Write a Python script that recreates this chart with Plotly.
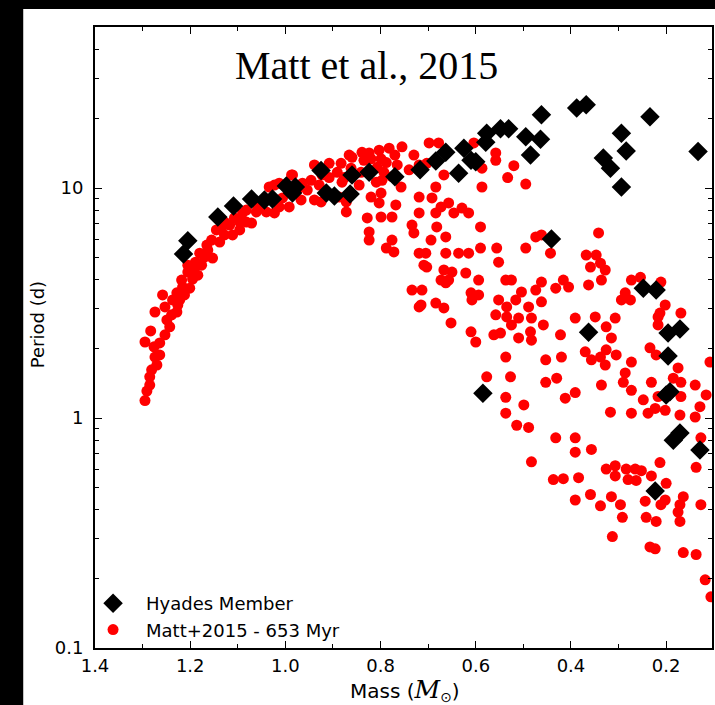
import plotly.graph_objects as go

# Hyades members (mass in solar masses, period in days)
hyades_mass = [1.205, 1.214, 1.142, 1.109, 1.071, 1.044, 1.027, 0.998, 0.985, 0.979,
               0.925, 0.914, 0.897, 0.864, 0.860, 0.824, 0.770, 0.717, 0.684, 0.663,
               0.636, 0.625, 0.610, 0.600, 0.579, 0.577, 0.548, 0.531, 0.495, 0.464,
               0.485, 0.462, 0.388, 0.368, 0.441, 0.294, 0.284, 0.234, 0.332, 0.317,
               0.294, 0.133, 0.248, 0.221, 0.363, 0.196, 0.171, 0.196, 0.192, 0.200,
               0.171, 0.185, 0.129, 0.223, 0.585]
hyades_period = [5.89, 5.16, 7.48, 8.35, 8.96, 8.87, 8.96, 10.2, 9.51, 10.1,
                 11.9, 9.51, 9.23, 9.42, 11.4, 11.7, 11.2, 12.0, 13.1, 14.3,
                 11.6, 14.9, 13.2, 13.0, 15.8, 17.3, 18.1, 18.1, 16.7, 16.3,
                 13.9, 20.8, 22.3, 23.0, 6.0, 17.3, 14.5, 20.4, 13.5, 12.2,
                 10.1, 14.4, 3.67, 3.60, 2.36, 2.34, 2.44, 1.86, 1.30, 1.26,
                 0.861, 0.80, 0.726, 0.482, 1.28]

# Matt et al. (2015) model, 653 Myr
matt_mass = [1.295, 1.291, 1.285, 1.281, 1.274, 1.276, 1.295, 1.264, 1.283, 1.243,
             1.249, 1.239, 1.274, 1.228, 1.253, 1.222, 1.237, 1.258, 1.228, 1.216,
             1.201, 1.218, 1.195, 1.205, 1.176, 1.170, 1.180, 1.163, 1.155, 1.138,
             1.145, 1.128, 1.111, 1.117, 1.096, 1.082, 1.071, 1.090, 1.061, 1.040,
             1.023, 1.048, 1.019, 1.034, 1.013, 0.987, 0.992, 0.967, 0.964, 0.946,
             0.939, 0.908, 0.883, 0.881, 0.939, 0.925, 0.872, 0.828, 0.824, 0.824,
             0.866, 0.839, 1.082, 1.054, 1.013, 1.023, 0.985, 0.923, 0.860, 0.824,
             0.803, 0.782, 0.755, 0.730, 0.788, 0.807, 0.797, 0.872, 0.887, 0.845,
             0.820, 0.809, 0.757, 0.698, 0.678, 0.703, 0.667, 0.684, 0.719, 0.692,
             0.673, 0.646, 0.799, 0.799, 0.776, 0.776, 0.772, 0.788, 0.730, 0.734,
             0.719, 0.682, 0.694, 0.663, 0.705, 0.709, 0.663, 0.673, 0.650, 0.734,
             0.713, 0.715, 0.684, 0.667, 0.652, 0.604, 0.558, 0.558, 0.520, 0.495,
             0.533, 0.587, 0.587, 0.803, 0.629, 0.615, 0.590, 0.615, 0.590, 0.552,
             0.556, 0.525, 0.537, 0.495, 0.474, 0.462, 0.443, 0.594, 0.610, 0.552,
             0.535, 0.516, 0.489, 0.483, 0.462, 0.462, 0.432, 0.416, 0.405, 0.368,
             0.347, 0.359, 0.338, 0.328, 0.336, 0.363, 0.342, 0.391, 0.349, 0.307,
             0.294, 0.286, 0.273, 0.254, 0.211, 0.202, 0.169, 0.217, 0.719, 0.703,
             0.657, 0.667, 0.621, 0.636, 0.594, 0.504, 0.474, 0.657, 0.684, 0.776,
             0.799, 0.768, 0.663, 0.719, 0.608, 0.610, 0.600, 0.577, 0.558, 0.535,
             0.510, 0.525, 0.562, 0.548, 0.510, 0.485, 0.483, 0.537, 0.458, 0.453,
             0.422, 0.326, 0.315, 0.370, 0.357, 0.338, 0.326, 0.328, 0.305, 0.273,
             0.286, 0.290, 0.273, 0.248, 0.231, 0.223, 0.238, 0.217, 0.202, 0.169,
             0.175, 0.185, 0.169, 0.171, 0.139, 0.139, 0.129, 0.116, 0.108, 0.127,
             0.137, 0.213, 0.217, 0.234, 0.221, 0.275, 0.527, 0.537, 0.499, 0.514,
             0.489, 0.537, 0.420, 0.453, 0.430, 0.412, 0.391, 0.432, 0.391, 0.391,
             0.357, 0.317, 0.336, 0.273, 0.483, 0.437, 0.416, 0.384, 0.391, 0.359,
             0.338, 0.315, 0.296, 0.326, 0.307, 0.307, 0.284, 0.265, 0.252, 0.263,
             0.231, 0.213, 0.200, 0.244, 0.202, 0.211, 0.164, 0.171, 0.175, 0.171,
             0.242, 0.221, 0.292, 0.313, 0.234, 0.223, 0.164, 0.137, 0.118, 0.106,
             0.127, 0.280, 1.189, 1.165, 1.134, 1.107, 1.059, 1.042, 1.006, 0.975,
             0.954, 0.929, 0.908, 0.891, 0.862, 0.841, 0.835, 0.820, 0.770, 0.740,
             0.719, 0.765, 0.793, 0.876, 1.096, 1.153, 1.184, 1.212, 1.226, 1.253,
             1.264, 1.270, 1.285, 1.128, 1.205, 1.191]
matt_period = [1.19, 1.31, 1.51, 1.62, 1.84, 2.04, 2.14, 2.12, 2.39, 2.49,
               2.67, 2.81, 2.89, 2.89, 3.04, 3.26, 3.26, 3.43, 3.50, 3.71,
               3.67, 3.98, 4.02, 4.62, 4.62, 5.01, 5.21, 5.37, 5.94, 5.82,
               6.57, 6.25, 6.25, 6.90, 7.11, 7.11, 7.04, 7.79, 7.87, 7.87,
               7.79, 8.61, 8.87, 10.1, 10.5, 11.4, 8.27, 8.87, 10.5, 10.8,
               12.6, 12.8, 12.8, 10.6, 8.87, 8.70, 7.87, 7.41, 6.44, 5.94,
               13.9, 14.3, 8.02, 8.27, 8.27, 10.3, 11.4, 11.4, 13.6, 14.2,
               14.6, 14.9, 15.1, 13.9, 12.9, 12.3, 10.8, 8.70, 9.13, 10.3,
               9.13, 10.6, 10.1, 15.7, 15.7, 12.8, 11.4, 10.1, 9.13, 9.05,
               8.27, 7.79, 9.5, 7.48, 7.48, 5.94, 5.27, 5.48, 6.38, 6.90,
               7.79, 6.77, 5.94, 6.13, 5.21, 4.62, 5.21, 3.98, 4.31, 3.60,
               3.60, 3.10, 3.16, 3.01, 2.59, 15.7, 14.2, 13.2, 12.5, 10.4,
               11.1, 12.2, 10.1, 8.61, 8.18, 7.79, 6.77, 5.21, 5.48, 4.76,
               5.48, 3.98, 3.98, 5.48, 6.13, 6.25, 5.21, 3.98, 3.50, 3.26,
               2.75, 3.26, 3.04, 2.72, 3.20, 3.90, 3.67, 3.98, 3.71, 5.11,
               5.11, 4.53, 4.71, 4.40, 3.98, 3.79, 6.38, 2.72, 2.75, 2.72,
               3.26, 3.50, 3.98, 4.09, 3.90, 3.10, 2.86, 2.75, 5.21, 4.53,
               3.98, 4.40, 4.27, 5.21, 3.43, 3.53, 3.60, 8.61, 7.79, 11.2,
               13.4, 8.44, 3.87, 3.04, 3.26, 2.37, 2.14, 1.51, 2.81, 3.04,
               2.72, 2.54, 2.30, 2.34, 2.23, 2.37, 2.18, 1.84, 2.54, 1.79,
               2.30, 2.49, 2.23, 1.94, 1.79, 1.84, 1.98, 1.70, 1.88, 1.75,
               1.57, 1.43, 1.32, 1.20, 1.43, 1.10, 1.05, 1.24, 1.08, 1.43,
               1.65, 1.49, 1.24, 1.03, 1.39, 1.01, 1.12, 1.26, 1.75, 0.82,
               0.61, 2.86, 2.54, 2.02, 1.88, 3.26, 1.51, 1.23, 1.14, 0.93,
               0.91, 1.05, 1.84, 1.43, 1.49, 1.22, 1.29, 0.82, 0.82, 0.71,
               0.73, 1.06, 1.39, 1.05, 0.645, 0.54, 0.545, 0.55, 0.44, 0.465,
               0.415, 0.455, 0.42, 0.60, 0.62, 0.56, 0.60, 0.60, 0.59, 0.535,
               0.56, 0.64, 0.52, 0.435, 0.44, 0.42, 0.455, 0.42, 0.39, 0.355,
               0.37, 0.355, 0.37, 0.305, 0.275, 0.27, 0.26, 0.255, 0.198, 0.167,
               0.42, 0.54, 4.76, 5.65, 6.70, 7.41, 8.44, 8.87, 9.05, 9.8,
               9.8, 10.3, 11.1, 11.7, 12.2, 11.7, 13.2, 13.4, 13.9, 12.0,
               12.6, 12.6, 11.7, 11.1, 6.57, 4.96, 4.18, 3.43, 3.10, 2.30,
               1.88, 1.70, 1.39, 7.11, 4.31, 4.49]

x_major = [1.4, 1.2, 1.0, 0.8, 0.6, 0.4, 0.2]
x_major_text = ["1.4", "1.2", "1.0", "0.8", "0.6", "0.4", "0.2"]
x_minor = [1.3, 1.1, 0.9, 0.7, 0.5, 0.3, 0.1]
y_major = [0.1, 1, 10]
y_major_text = ["0.1", "1", "10"]
y_minor = [0.2, 0.3, 0.4, 0.5, 0.6, 0.7, 0.8, 0.9,
           2, 3, 4, 5, 6, 7, 8, 9, 20, 30, 40]

W, H = 715, 705
L, R, T, B = 95, 1, 27, 57
pw, ph = W - L - R, H - T - B

fig = go.Figure()
fig.add_trace(go.Scatter(
    x=matt_mass, y=matt_period, mode="markers",
    name="Matt+2015 - 653 Myr",
    marker=dict(symbol="circle", size=11, color="#ff0000", line=dict(width=0)),
))
fig.add_trace(go.Scatter(
    x=hyades_mass, y=hyades_period, mode="markers",
    name="Hyades Member",
    marker=dict(symbol="diamond", size=15, color="black", line=dict(width=0)),
))

axis_font = dict(family="DejaVu Sans", size=18, color="black")

fig.update_layout(
    width=W, height=H,
    margin=dict(l=L, r=R, t=T, b=B, pad=0),
    paper_bgcolor="white", plot_bgcolor="white",
    showlegend=True,
    legend=dict(
        x=(80 - L) / pw, y=0.0, xanchor="left", yanchor="bottom",
        itemwidth=56,
        traceorder="reversed", bgcolor="rgba(0,0,0,0)", borderwidth=0,
        font=dict(family="DejaVu Sans", size=18, color="black"),
    ),
    xaxis=dict(
        range=[1.4, 1.4 - pw / 477.5], autorange=False,
        tickmode="array", tickvals=x_major, ticktext=x_major_text,
        ticks="inside", ticklen=7, tickwidth=1, tickcolor="black",
        minor=dict(tickmode="array", tickvals=x_minor, ticks="inside",
                   ticklen=4, tickwidth=1, tickcolor="black"),
        showgrid=False, zeroline=False,
        showline=True, linecolor="black", linewidth=2, mirror="ticks",
        tickfont=axis_font,
    ),
    yaxis=dict(
        type="log", range=[-1, 1.7], autorange=False,
        tickmode="array", tickvals=y_major, ticktext=y_major_text,
        ticks="inside", ticklen=7, tickwidth=1, tickcolor="black",
        minor=dict(tickmode="array", tickvals=y_minor, ticks="inside",
                   ticklen=4, tickwidth=1, tickcolor="black"),
        showgrid=False, zeroline=False,
        showline=True, linecolor="black", linewidth=2, mirror="ticks",
        tickfont=axis_font, ticklabelstandoff=6,
    ),
    annotations=[
        dict(text="Matt et al., 2015", xref="paper", yref="paper",
             x=(367 - L) / pw, y=(H - B - 66) / ph, xanchor="center", yanchor="middle",
             showarrow=False,
             font=dict(family="Liberation Serif", size=40, color="black")),
        dict(text="Mass (<span style=\"font-family:'DejaVu Serif';font-style:italic;font-size:25px\">M</span>"
                  "<sub style=\"font-size:18px\">⊙</sub>)",
             xref="paper", yref="paper",
             x=(406 - L) / pw, y=(H - B - 690) / ph, xanchor="center", yanchor="middle",
             showarrow=False,
             font=dict(family="DejaVu Sans", size=20, color="black")),
        dict(text="Period (d)", xref="paper", yref="paper", textangle=-90,
             x=(37 - L) / pw, y=(H - B - 325) / ph, xanchor="center", yanchor="middle",
             showarrow=False,
             font=dict(family="DejaVu Sans", size=18, color="black")),
    ],
    shapes=[
        dict(type="rect", xref="paper", yref="paper",
             x0=-0.3, x1=(23 - L) / pw, y0=-0.3, y1=1.3,
             fillcolor="black", line=dict(width=0), layer="above"),
        dict(type="rect", xref="paper", yref="paper",
             x0=-0.3, x1=1.3, y0=(H - B - 9) / ph, y1=1.3,
             fillcolor="black", line=dict(width=0), layer="above"),
    ],
)

fig.write_html("out.html")
